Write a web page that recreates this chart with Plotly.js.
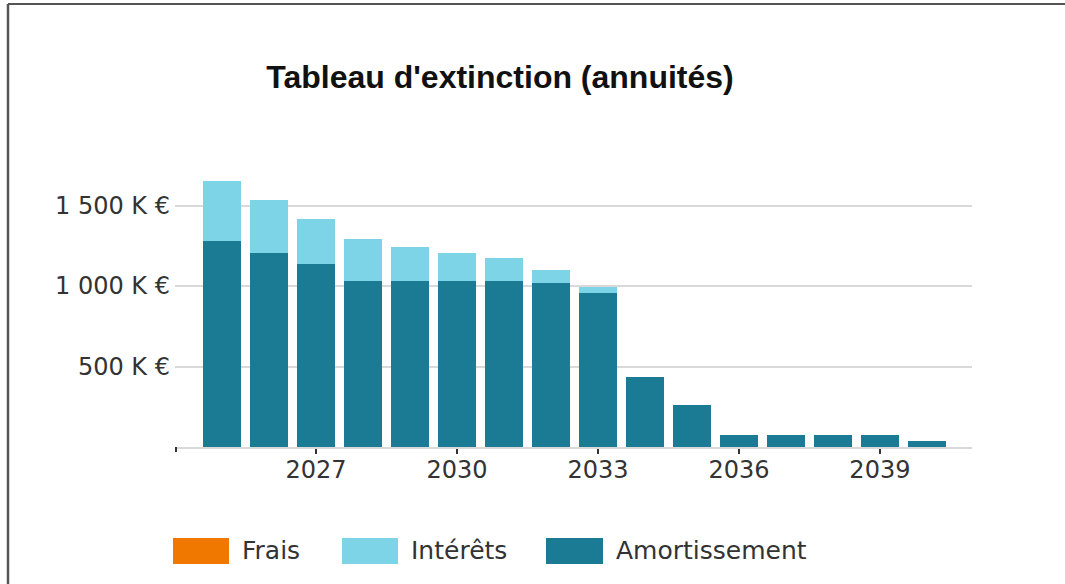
<!DOCTYPE html>
<html>
<head>
<meta charset="utf-8">
<script src="https://cdn.plot.ly/plotly-3.0.1.min.js"></script>
<style>html,body{margin:0;padding:0;background:#fff;}#chart{width:1065px;height:584px;}</style>
</head>
<body>
<div id="chart"></div>
<script>
const years = [2025,2026,2027,2028,2029,2030,2031,2032,2033,2034,2035,2036,2037,2038,2039,2040];
const amortissement = [1280,1207,1137,1033,1033,1033,1033,1017,955,437,261,72,72,72,72,40];
const interets = [374,327,277,257,207,174,139,82,41,0,0,0,0,0,0,0];
const frais = [0,0,0,0,0,0,0,0,0,0,0,0,0,0,0,0];
const seriesNames = ['Frais','Intérêts','Amortissement'];
const seriesColors = ['#f07800','#7dd4e6','#1b7b95'];
const yTickVals = [500,1000,1500];
const yTickText = ['500 K €','1 000 K €','1 500 K €'];
const xTickVals = [2027,2030,2033,2036,2039];

const W = 1065, H = 584;
const mL = 175, mR = 93, mT = 125, mB = 137;
const pw = W - mL - mR, ph = H - mT - mB;
const px = x => (x - mL) / pw;
const py = y => (H - mB - y) / ph;

const traces = [
  {type:'bar', x:years, y:amortissement, name:seriesNames[2], marker:{color:seriesColors[2]}, showlegend:false, hoverinfo:'x+y'},
  {type:'bar', x:years, y:interets, name:seriesNames[1], marker:{color:seriesColors[1]}, showlegend:false, hoverinfo:'x+y'},
  {type:'bar', x:years, y:frais, name:seriesNames[0], marker:{color:seriesColors[0]}, showlegend:false, hoverinfo:'x+y'}
];

// custom legend (large swatches)
const legItems = [
  {sx0:173, sx1:229, tx:240},
  {sx0:342, sx1:398, tx:409},
  {sx0:546, sx1:603, tx:614}
];
const shapes = [];
const annotations = [];
legItems.forEach((it,i) => {
  shapes.push({type:'rect', xref:'paper', yref:'paper', x0:px(it.sx0), x1:px(it.sx1), y0:py(564), y1:py(538),
    fillcolor:seriesColors[i], line:{width:0}});
  annotations.push({xref:'paper', yref:'paper', x:px(it.tx), y:py(550), xanchor:'left', yanchor:'middle',
    text:seriesNames[i], showarrow:false, font:{family:'DejaVu Sans', size:25, color:'#333'}});
});
// outer frame (top and left edges)
shapes.push({type:'line', xref:'paper', yref:'paper', x0:px(8), x1:px(1070), y0:py(4), y1:py(4),
  line:{color:'#555', width:2}});
shapes.push({type:'line', xref:'paper', yref:'paper', x0:px(8), x1:px(8), y0:py(4), y1:py(600),
  line:{color:'#555', width:2.5}});
// small tick at axis origin
shapes.push({type:'line', xref:'paper', yref:'paper', x0:px(176), x1:px(176), y0:py(447), y1:py(452),
  line:{color:'#333', width:2}});

const layout = {
  width:W, height:H,
  margin:{l:mL, r:mR, t:mT, b:mB},
  paper_bgcolor:'#fff', plot_bgcolor:'#fff',
  barmode:'stack', bargap:0.19,
  title:{text:'<b>Tableau d\'extinction (annuités)</b>', x:500/W, xanchor:'center', xref:'container',
    y:1-77/H, yanchor:'middle', yref:'container',
    font:{family:'Liberation Sans, sans-serif', size:32, color:'#111'}},
  xaxis:{range:[2024.0, 2040.96], tickvals:xTickVals, ticktext:xTickVals.map(String),
    ticks:'outside', ticklen:5, tickwidth:2, tickcolor:'#333', showgrid:false, zeroline:false,
    showline:true, linecolor:'#d9d9d9', linewidth:2, ticklabelstandoff:-5,
    tickfont:{family:'DejaVu Sans', size:24, color:'#333'}},
  yaxis:{range:[0,2000], tickvals:yTickVals.concat([2000]), ticktext:yTickText.concat(['']),
    showgrid:true, gridcolor:'#d9d9d9', gridwidth:2, zeroline:false, showline:false, ticks:'',
    ticklabelstandoff:4,
    tickfont:{family:'DejaVu Sans', size:24, color:'#333'}},
  shapes:shapes, annotations:annotations,
  showlegend:false
};
Plotly.newPlot('chart', traces, layout, {displayModeBar:false, staticPlot:true});
</script>
</body>
</html>
